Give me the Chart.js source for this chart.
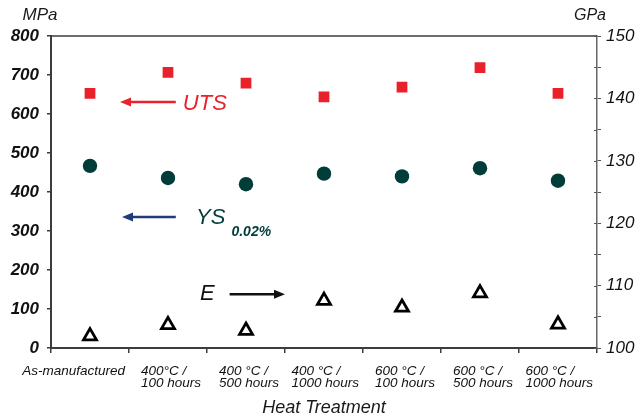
<!DOCTYPE html>
<html>
<head>
<meta charset="utf-8">
<script src="https://cdn.jsdelivr.net/npm/chart.js@4.4.1/dist/chart.umd.min.js"></script>
<style>
  html, body { margin: 0; padding: 0; background: #fff; }
  #wrap { width: 638px; height: 419px; }
</style>
</head>
<body>
<div id="wrap"><canvas id="c" width="638" height="419"></canvas></div>
<script>
const FONT = "'Liberation Sans', Arial, sans-serif";

// heat treatment categories (line breaks as in the original)
const categories = [
  ["As-manufactured"],
  ["400°C /", "100 hours"],
  ["400 °C /", "500 hours"],
  ["400 °C /", "1000 hours"],
  ["600 °C /", "100 hours"],
  ["600 °C /", "500 hours"],
  ["600 °C /", "1000 hours"],
];

// values
const utsMPa = [653, 707, 679, 644, 669, 719, 653];
const ysMPa = [467, 436, 420, 447, 440, 461, 429];
const eGPa = [101.9, 103.7, 102.8, 107.6, 106.5, 108.8, 103.8];

const leftTicks = { min: 0, max: 800, step: 100 };
const rightTicks = { min: 100, max: 150, step: 5, labelEvery: 10 };

// arrows / labels in data units (x = category index, y = MPa)
const notes = [
  { text: "UTS", sub: null, color: "#e8212b", arrowColor: "#e8212b", x: 1.19, y: 626,
    arrow: { from: 1.1, to: 0.385, y: 631 } },
  { text: "YS", sub: "0.02%", color: "#003c3a", arrowColor: "#1e3c78", x: 1.36, y: 333,
    arrow: { from: 1.1, to: 0.41, y: 336 } },
  { text: "E", sub: null, color: "#111", arrowColor: "#111", x: 1.41, y: 138,
    arrow: { from: 1.79, to: 2.5, y: 138 } },
];

const AXIS = "#3c3c3c";

function drawArrow(ctx, x1, x2, y, color) {
  const dir = Math.sign(x2 - x1);
  ctx.save();
  ctx.strokeStyle = color;
  ctx.fillStyle = color;
  ctx.lineWidth = 2.5;
  ctx.beginPath();
  ctx.moveTo(x1, y);
  ctx.lineTo(x2 - dir * 8, y);
  ctx.stroke();
  ctx.beginPath();
  ctx.moveTo(x2, y);
  ctx.lineTo(x2 - dir * 11, y - 4.5);
  ctx.lineTo(x2 - dir * 11, y + 4.5);
  ctx.closePath();
  ctx.fill();
  ctx.restore();
}

const decorPlugin = {
  id: "decor",
  afterDraw(chart) {
    const { ctx, chartArea } = chart;
    const xs = chart.scales.x;
    const yl = chart.scales.y;
    const yr = chart.scales.y2;
    ctx.save();

    // top frame line
    ctx.strokeStyle = AXIS;
    ctx.lineWidth = 1.5;
    ctx.beginPath();
    ctx.moveTo(chartArea.left, chartArea.top);
    ctx.lineTo(chartArea.right, chartArea.top);
    ctx.stroke();

    // inner half of right-axis ticks
    ctx.strokeStyle = "#555";
    ctx.lineWidth = 1;
    yr.ticks.forEach((t) => {
      const py = Math.round(yr.getPixelForValue(t.value)) + 0.5;
      ctx.beginPath();
      ctx.moveTo(chartArea.right - 3, py);
      ctx.lineTo(chartArea.right, py);
      ctx.stroke();
    });

    // category labels: lines left-aligned, block kept inside its column
    ctx.font = "italic 13.5px " + FONT;
    ctx.fillStyle = "#111";
    ctx.textAlign = "left";
    ctx.textBaseline = "middle";
    const half = (xs.getPixelForValue(1) - xs.getPixelForValue(0)) / 2;
    categories.forEach((lines, i) => {
      const cx = xs.getPixelForValue(i);
      const w = Math.max(...lines.map((l) => ctx.measureText(l).width));
      const x0 = Math.min(cx - w / 2 + 3, cx + half - w - 4);
      lines.forEach((l, j) => {
        ctx.fillText(l, x0, chartArea.bottom + 23 + j * 12.7);
      });
    });

    // axis title
    ctx.font = "italic 18px " + FONT;
    ctx.textAlign = "center";
    ctx.fillStyle = "#1a1a1a";
    ctx.fillText("Heat Treatment", (chartArea.left + chartArea.right) / 2, chartArea.bottom + 60);

    // units
    ctx.font = "italic 17px " + FONT;
    ctx.fillText("MPa", chartArea.left - 11, chartArea.top - 21);
    ctx.font = "italic 16px " + FONT;
    ctx.fillText("GPa", chartArea.right - 7, chartArea.top - 20);

    // annotations
    notes.forEach((n) => {
      drawArrow(ctx, xs.getPixelForValue(n.arrow.from), xs.getPixelForValue(n.arrow.to),
        yl.getPixelForValue(n.arrow.y), n.arrowColor);
      const px = xs.getPixelForValue(n.x);
      const py = yl.getPixelForValue(n.y);
      ctx.font = "italic 22px " + FONT;
      ctx.fillStyle = n.color;
      ctx.textAlign = "left";
      ctx.textBaseline = "middle";
      ctx.fillText(n.text, px, py);
      if (n.sub) {
        const w = ctx.measureText(n.text).width;
        ctx.font = "bold italic 14px " + FONT;
        ctx.fillText(n.sub, px + w + 6, py + 14);
      }
    });

    ctx.restore();
  },
};

new Chart(document.getElementById("c"), {
  type: "line",
  data: {
    labels: categories.map((c) => c.join(" ")),
    datasets: [
      {
        label: "UTS",
        data: utsMPa,
        yAxisID: "y",
        showLine: false,
        pointStyle: "rect",
        pointRadius: 7.6,
        pointBackgroundColor: "#e8212b",
        pointBorderWidth: 0,
      },
      {
        label: "YS 0.02%",
        data: ysMPa,
        yAxisID: "y",
        showLine: false,
        pointStyle: "circle",
        pointRadius: 7.2,
        pointBackgroundColor: "#003c38",
        pointBorderWidth: 0,
      },
      {
        label: "E",
        data: eGPa,
        yAxisID: "y2",
        showLine: false,
        pointStyle: "triangle",
        pointRadius: 7.5,
        pointBackgroundColor: "#fff",
        pointBorderColor: "#000",
        pointBorderWidth: 2.8,
      },
    ],
  },
  options: {
    responsive: false,
    animation: false,
    layout: { padding: { top: 36, right: 0, bottom: 0, left: 0 } },
    plugins: {
      legend: { display: false },
      tooltip: { enabled: false },
    },
    scales: {
      x: {
        offset: true,
        grid: { offset: true, drawOnChartArea: false, drawTicks: true, tickLength: 5, color: AXIS, lineWidth: 1.5 },
        border: { display: true, color: AXIS, width: 2 },
        ticks: { display: false },
        afterFit: (s) => { s.height = 71; },
      },
      y: {
        position: "left",
        min: leftTicks.min,
        max: leftTicks.max,
        grid: { drawOnChartArea: false, tickLength: 4, color: AXIS, lineWidth: 1.5 },
        border: { display: true, color: AXIS, width: 2 },
        ticks: {
          stepSize: leftTicks.step,
          padding: 8,
          color: "#111",
          font: { family: FONT, size: 17, style: "italic", weight: "bold" },
        },
        afterFit: (s) => { s.width = 51; },
      },
      y2: {
        position: "right",
        min: rightTicks.min,
        max: rightTicks.max,
        grid: { drawOnChartArea: false, tickLength: 4, color: "#555", lineWidth: 1 },
        border: { display: true, color: "#666", width: 1.5 },
        ticks: {
          stepSize: rightTicks.step,
          padding: 5,
          color: "#111",
          font: { family: FONT, size: 17, style: "italic" },
          callback: (v) => (v % rightTicks.labelEvery === 0 ? v : ""),
        },
        afterFit: (s) => { s.width = 41; },
      },
    },
  },
  plugins: [decorPlugin],
});
</script>
</body>
</html>
